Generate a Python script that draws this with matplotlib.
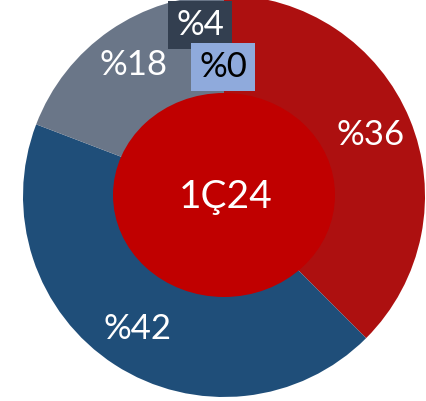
"""Donut chart: 1Ç24 distribution."""

import matplotlib

matplotlib.use("Agg")
import matplotlib.pyplot as plt
from matplotlib.patches import Ellipse

plt.rcParams["font.family"] = ["Lato", "DejaVu Sans"]

# slice shares as drawn (degrees -> percent)
shares = [37.5, 43.3, 19.2]
labels = ["%36", "%42", "%18"]
colors = ["#AD1010", "#1F4E79", "#6A7688"]

# small labels drawn in boxes near the top
extra_labels = ["%4", "%0"]
extra_fc = ["#333F50", "#8FAADC"]
extra_tc = ["white", "black"]

center_text = "1Ç24"

W, H = 426, 401
fig = plt.figure(figsize=(W / 100, H / 100), dpi=100)
ax = fig.add_axes([0, 0, 1, 1])

cx, cy = 224, H - 196
ax.pie(
    shares,
    labels=labels,
    colors=colors,
    radius=201,
    center=(cx, cy),
    startangle=90,
    counterclock=False,
    labeldistance=0.79,
    textprops=dict(color="white", fontsize=25, ha="center", va="center"),
    wedgeprops=dict(linewidth=0),
)

ax.add_patch(Ellipse((cx, H - 195), 222, 204, color="#C00000", lw=0, zorder=3))
ax.text(cx + 2, H - 197, center_text, color="white", fontsize=28,
        ha="center", va="center", zorder=4)

ax.text(200, H - 25, extra_labels[0], color=extra_tc[0], fontsize=25,
        ha="center", va="center", zorder=4,
        bbox=dict(boxstyle="square,pad=0.24", fc=extra_fc[0], ec="none"))
ax.text(223, H - 67, extra_labels[1], color=extra_tc[1], fontsize=25,
        ha="center", va="center", zorder=4,
        bbox=dict(boxstyle="square,pad=0.24", fc=extra_fc[1], ec="none"))

ax.set_xlim(0, W)
ax.set_ylim(0, H)
ax.set_aspect("equal")
ax.axis("off")

fig.savefig("out.png", dpi=100)
